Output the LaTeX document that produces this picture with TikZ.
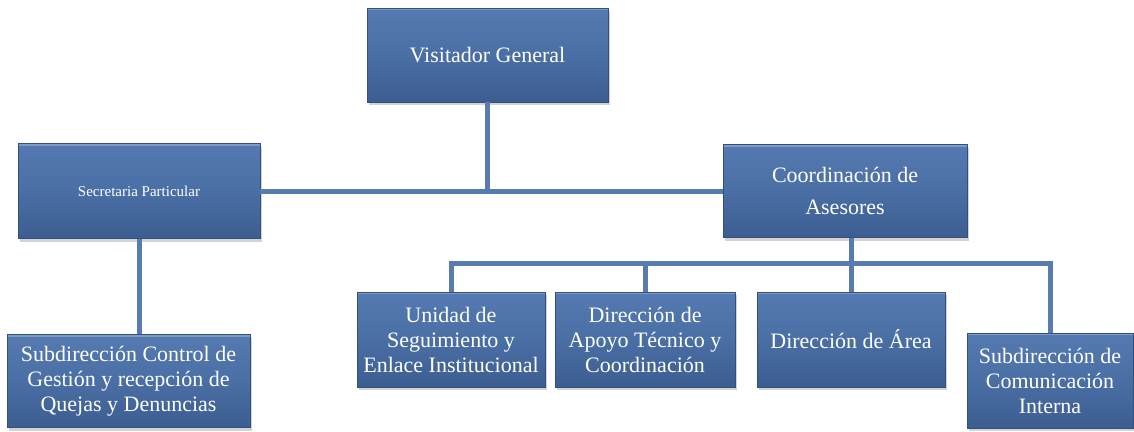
\documentclass[tikz,border=0pt]{standalone}
\usepackage{fontspec}
\setmainfont{Liberation Serif}
\usetikzlibrary{shadows}

\definecolor{boxtop}{RGB}{84,122,177}
\definecolor{boxmid}{RGB}{74,111,165}
\definecolor{boxbot}{RGB}{60,93,144}
\definecolor{boxedge}{RGB}{50,80,125}
\definecolor{linkblue}{RGB}{88,124,176}

\begin{document}
\begin{tikzpicture}[x=1pt,y=-1pt,
  unit/.style={draw=boxedge, line width=0.8pt,
    top color=boxtop, bottom color=boxbot, middle color=boxmid,
    path picture={\draw[white, opacity=0.25, line width=4pt]
      (path picture bounding box.north west) -- (path picture bounding box.north east);},
    text=white, align=center, inner sep=2pt,
    drop shadow={opacity=0.35, shadow xshift=2pt, shadow yshift=-3pt},
    font=\fontsize{22}{25}\selectfont},
  link/.style={linkblue, line width=5pt}]
  \useasboundingbox (0,0) rectangle (1134,431);

  \node [unit, minimum width=241pt, minimum height=94pt] (vg) at (487.5,55) {Visitador General};
  \node [unit, minimum width=242pt, minimum height=95pt,
	font=\fontsize{15}{17}\selectfont] (sec) at (139,191) {Secretaria Particular};
  \node [unit, minimum width=244pt, minimum height=93pt] (coa) at (845,191) {Coordinación de\\[7pt]Asesores};
  \node [unit, minimum width=243pt, minimum height=93pt] (sub) at (128.5,381) {Subdirección Control de\\Gestión y recepción de\\Quejas y Denuncias};

  \node [unit, minimum width=188pt, minimum height=95pt] (uni) at (451,339.5) {Unidad de\\Seguimiento y\\Enlace Institucional};
  \node [unit, minimum width=180pt, minimum height=95pt] (dat) at (645,339.5) {Dirección de\\Apoyo Técnico y\\Coordinación};
  \node [unit, minimum width=188pt, minimum height=95pt] (dar) at (851,339.5) {Dirección de Área};
  \node [unit, minimum width=166pt, minimum height=95pt] (sci) at (1050,380.5) {Subdirección de\\Comunicación\\Interna};

  % connectors
  \coordinate (bus) at (851,263);
  \draw [link] (sec.east) -- (coa.west);
  \draw [link] (vg.south) -- (vg.south |- sec.east);
  \draw [link] (sec.south) -- (sec.south |- sub.north);
  \draw [link] (coa.south -| dar.north) -- (dar.north);
  \draw [link] (uni.north) |- (bus) -| (sci.north);
  \draw [link] (dat.north) -- (dat.north |- bus);
\end{tikzpicture}
\end{document}
